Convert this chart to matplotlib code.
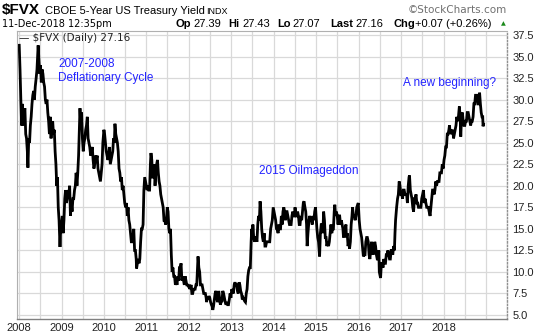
import matplotlib
matplotlib.use("Agg")
import matplotlib.pyplot as plt
import pandas as pd

# $FVX daily closes (yield x 10), sampled through the period
dates = [
    "2008-01-02", "2008-01-09", "2008-01-16", "2008-01-23", "2008-01-30", "2008-02-06", "2008-02-13", "2008-02-20",
    "2008-02-27", "2008-03-05", "2008-03-12", "2008-03-17", "2008-03-24", "2008-03-31", "2008-04-07", "2008-04-14",
    "2008-04-21", "2008-04-28", "2008-05-05", "2008-05-12", "2008-05-19", "2008-05-27", "2008-06-03", "2008-06-10",
    "2008-06-13", "2008-06-20", "2008-06-27", "2008-07-03", "2008-07-10", "2008-07-17", "2008-07-24", "2008-07-31",
    "2008-08-07", "2008-08-14", "2008-08-21", "2008-08-28", "2008-09-04", "2008-09-11", "2008-09-18", "2008-09-25",
    "2008-10-02", "2008-10-09", "2008-10-16", "2008-10-23", "2008-10-30", "2008-11-06", "2008-11-13", "2008-11-20",
    "2008-11-26", "2008-12-03", "2008-12-10", "2008-12-18", "2008-12-24", "2008-12-31",
    "2009-01-07", "2009-01-14", "2009-01-21", "2009-01-28", "2009-02-04", "2009-02-11", "2009-02-18", "2009-02-25",
    "2009-03-04", "2009-03-11", "2009-03-18", "2009-03-25", "2009-04-01", "2009-04-08", "2009-04-15", "2009-04-22",
    "2009-04-29", "2009-05-06", "2009-05-13", "2009-05-20", "2009-05-27", "2009-06-03", "2009-06-08", "2009-06-15",
    "2009-06-22", "2009-06-29", "2009-07-06", "2009-07-13", "2009-07-20", "2009-07-27", "2009-08-03", "2009-08-10",
    "2009-08-17", "2009-08-24", "2009-08-31", "2009-09-08", "2009-09-15", "2009-09-22", "2009-09-29", "2009-10-06",
    "2009-10-13", "2009-10-20", "2009-10-27", "2009-11-03", "2009-11-10", "2009-11-17", "2009-11-24", "2009-12-01",
    "2009-12-08", "2009-12-15", "2009-12-22", "2009-12-31",
    "2010-01-06", "2010-01-13", "2010-01-20", "2010-01-27", "2010-02-03", "2010-02-10", "2010-02-17", "2010-02-24",
    "2010-03-03", "2010-03-10", "2010-03-17", "2010-03-24", "2010-03-31", "2010-04-05", "2010-04-12", "2010-04-19",
    "2010-04-26", "2010-05-03", "2010-05-10", "2010-05-17", "2010-05-24", "2010-05-31", "2010-06-07", "2010-06-14",
    "2010-06-21", "2010-06-28", "2010-07-06", "2010-07-13", "2010-07-20", "2010-07-27", "2010-08-03", "2010-08-10",
    "2010-08-17", "2010-08-24", "2010-08-31", "2010-09-07", "2010-09-14", "2010-09-21", "2010-09-28", "2010-10-05",
    "2010-10-08", "2010-10-15", "2010-10-22", "2010-10-29", "2010-11-05", "2010-11-12", "2010-11-19", "2010-11-26",
    "2010-12-03", "2010-12-10", "2010-12-17", "2010-12-24", "2010-12-31",
    "2011-01-07", "2011-01-14", "2011-01-21", "2011-01-28", "2011-02-04", "2011-02-09", "2011-02-16", "2011-02-23",
    "2011-03-02", "2011-03-09", "2011-03-16", "2011-03-23", "2011-03-30", "2011-04-06", "2011-04-13", "2011-04-20",
    "2011-04-27", "2011-05-04", "2011-05-11", "2011-05-18", "2011-05-25", "2011-06-01", "2011-06-08", "2011-06-15",
    "2011-06-22", "2011-06-29", "2011-07-06", "2011-07-13", "2011-07-20", "2011-07-27", "2011-08-03", "2011-08-10",
    "2011-08-17", "2011-08-24", "2011-08-31", "2011-09-07", "2011-09-14", "2011-09-21", "2011-09-28", "2011-10-05",
    "2011-10-12", "2011-10-19", "2011-10-26", "2011-11-02", "2011-11-09", "2011-11-16", "2011-11-23", "2011-11-30",
    "2011-12-07", "2011-12-14", "2011-12-21", "2011-12-30",
    "2012-01-06", "2012-01-13", "2012-01-20", "2012-01-27", "2012-02-03", "2012-02-10", "2012-02-17", "2012-02-24",
    "2012-03-02", "2012-03-09", "2012-03-16", "2012-03-20", "2012-03-27", "2012-04-03", "2012-04-10", "2012-04-17",
    "2012-04-24", "2012-05-01", "2012-05-08", "2012-05-15", "2012-05-22", "2012-05-29", "2012-06-01", "2012-06-08",
    "2012-06-15", "2012-06-22", "2012-06-29", "2012-07-06", "2012-07-13", "2012-07-20", "2012-07-25", "2012-07-31",
    "2012-08-07", "2012-08-14", "2012-08-21", "2012-08-28", "2012-09-04", "2012-09-11", "2012-09-14", "2012-09-21",
    "2012-09-28", "2012-10-05", "2012-10-12", "2012-10-19", "2012-10-26", "2012-11-02", "2012-11-09", "2012-11-16",
    "2012-11-23", "2012-11-30", "2012-12-07", "2012-12-14", "2012-12-21", "2012-12-28",
    "2013-01-04", "2013-01-11", "2013-01-18", "2013-01-25", "2013-02-01", "2013-02-08", "2013-02-15", "2013-02-22",
    "2013-03-01", "2013-03-08", "2013-03-15", "2013-03-22", "2013-03-29", "2013-04-05", "2013-04-12", "2013-04-19",
    "2013-04-26", "2013-05-02", "2013-05-09", "2013-05-16", "2013-05-23", "2013-05-30", "2013-06-06", "2013-06-13",
    "2013-06-20", "2013-06-25", "2013-07-01", "2013-07-05", "2013-07-12", "2013-07-19", "2013-07-26", "2013-08-02",
    "2013-08-09", "2013-08-16", "2013-08-23", "2013-08-30", "2013-09-05", "2013-09-12", "2013-09-19", "2013-09-26",
    "2013-10-03", "2013-10-10", "2013-10-17", "2013-10-24", "2013-10-31", "2013-11-07", "2013-11-14", "2013-11-21",
    "2013-11-27", "2013-12-05", "2013-12-12", "2013-12-19", "2013-12-27",
    "2014-01-03", "2014-01-10", "2014-01-17", "2014-01-24", "2014-01-31", "2014-02-07", "2014-02-14", "2014-02-21",
    "2014-02-28", "2014-03-07", "2014-03-14", "2014-03-21", "2014-03-28", "2014-04-04", "2014-04-11", "2014-04-18",
    "2014-04-25", "2014-05-02", "2014-05-09", "2014-05-16", "2014-05-23", "2014-05-30", "2014-06-06", "2014-06-13",
    "2014-06-20", "2014-06-27", "2014-07-03", "2014-07-11", "2014-07-18", "2014-07-25", "2014-08-01", "2014-08-08",
    "2014-08-15", "2014-08-22", "2014-08-29", "2014-09-05", "2014-09-12", "2014-09-18", "2014-09-26", "2014-10-03",
    "2014-10-10", "2014-10-15", "2014-10-22", "2014-10-31", "2014-11-07", "2014-11-14", "2014-11-21", "2014-11-28",
    "2014-12-05", "2014-12-12", "2014-12-19", "2014-12-26", "2014-12-31",
    "2015-01-07", "2015-01-14", "2015-01-21", "2015-01-30", "2015-02-06", "2015-02-13", "2015-02-20", "2015-02-27",
    "2015-03-06", "2015-03-13", "2015-03-20", "2015-03-27", "2015-04-03", "2015-04-10", "2015-04-17", "2015-04-24",
    "2015-05-01", "2015-05-08", "2015-05-15", "2015-05-22", "2015-05-29", "2015-06-05", "2015-06-10", "2015-06-17",
    "2015-06-24", "2015-07-01", "2015-07-08", "2015-07-15", "2015-07-22", "2015-07-29", "2015-08-05", "2015-08-12",
    "2015-08-19", "2015-08-24", "2015-08-31", "2015-09-07", "2015-09-14", "2015-09-18", "2015-09-25", "2015-10-02",
    "2015-10-09", "2015-10-15", "2015-10-22", "2015-10-29", "2015-11-05", "2015-11-10", "2015-11-17", "2015-11-24",
    "2015-12-02", "2015-12-09", "2015-12-16", "2015-12-29",
    "2016-01-06", "2016-01-13", "2016-01-20", "2016-01-27", "2016-02-03", "2016-02-11", "2016-02-18", "2016-02-25",
    "2016-03-03", "2016-03-10", "2016-03-16", "2016-03-24", "2016-03-31", "2016-04-07", "2016-04-14", "2016-04-21",
    "2016-04-28", "2016-05-05", "2016-05-12", "2016-05-19", "2016-05-26", "2016-06-02", "2016-06-09", "2016-06-16",
    "2016-06-23", "2016-06-27", "2016-07-05", "2016-07-08", "2016-07-15", "2016-07-22", "2016-07-29", "2016-08-05",
    "2016-08-12", "2016-08-19", "2016-08-26", "2016-09-02", "2016-09-09", "2016-09-16", "2016-09-23", "2016-09-30",
    "2016-10-07", "2016-10-14", "2016-10-21", "2016-10-28", "2016-11-04", "2016-11-09", "2016-11-14", "2016-11-23",
    "2016-12-01", "2016-12-08", "2016-12-15", "2016-12-22", "2016-12-30",
    "2017-01-06", "2017-01-13", "2017-01-20", "2017-01-27", "2017-02-03", "2017-02-10", "2017-02-17", "2017-02-24",
    "2017-03-03", "2017-03-10", "2017-03-14", "2017-03-21", "2017-03-28", "2017-04-04", "2017-04-11", "2017-04-18",
    "2017-04-25", "2017-05-02", "2017-05-09", "2017-05-16", "2017-05-23", "2017-05-30", "2017-06-06", "2017-06-13",
    "2017-06-20", "2017-06-27", "2017-07-05", "2017-07-12", "2017-07-19", "2017-07-26", "2017-08-02", "2017-08-09",
    "2017-08-16", "2017-08-23", "2017-08-30", "2017-09-07", "2017-09-14", "2017-09-21", "2017-09-28", "2017-10-05",
    "2017-10-12", "2017-10-19", "2017-10-26", "2017-11-02", "2017-11-09", "2017-11-16", "2017-11-23", "2017-11-30",
    "2017-12-07", "2017-12-14", "2017-12-21", "2017-12-29",
    "2018-01-05", "2018-01-12", "2018-01-19", "2018-01-26", "2018-02-02", "2018-02-09", "2018-02-16", "2018-02-21",
    "2018-02-28", "2018-03-07", "2018-03-14", "2018-03-21", "2018-03-28", "2018-04-04", "2018-04-11", "2018-04-18",
    "2018-04-25", "2018-05-02", "2018-05-09", "2018-05-17", "2018-05-24", "2018-05-29", "2018-06-05", "2018-06-12",
    "2018-06-19", "2018-06-26", "2018-07-03", "2018-07-10", "2018-07-17", "2018-07-24", "2018-08-01", "2018-08-08",
    "2018-08-15", "2018-08-22", "2018-08-29", "2018-09-05", "2018-09-12", "2018-09-19", "2018-09-26", "2018-10-03",
    "2018-10-09", "2018-10-16", "2018-10-23", "2018-10-31", "2018-11-07", "2018-11-14", "2018-11-21", "2018-11-28",
    "2018-12-04", "2018-12-07", "2018-12-11",
]

fvx = [
    36.3, 33.5, 30.0, 27.0, 29.5, 27.0, 28.5, 29.0,
    26.0, 25.5, 24.0, 22.1, 25.5, 25.0, 27.0, 28.0,
    29.5, 30.5, 31.0, 30.0, 31.5, 32.5, 33.5, 35.5,
    36.3, 34.5, 33.0, 34.0, 32.0, 33.5, 33.0, 32.0,
    31.5, 30.0, 29.5, 30.0, 28.5, 27.5, 26.0, 28.0,
    25.5, 27.0, 27.5, 26.0, 26.5, 24.0, 22.5, 20.0,
    21.0, 17.5, 16.0, 12.9, 15.0, 15.5,
    16.5, 14.5, 16.0, 18.5, 19.5, 18.0, 18.5, 19.5,
    19.0, 20.0, 16.5, 18.0, 17.0, 18.5, 18.5, 19.5,
    20.0, 21.5, 20.0, 21.5, 23.5, 26.5, 29.0, 27.0,
    28.5, 25.5, 24.0, 25.0, 25.5, 26.5, 27.0, 28.0,
    25.5, 25.0, 24.5, 23.5, 24.0, 24.5, 23.0, 22.0,
    22.5, 23.5, 23.0, 23.5, 22.0, 21.5, 21.0, 20.5,
    21.5, 22.5, 25.0, 26.5,
    26.0, 25.0, 24.0, 23.5, 23.0, 23.5, 24.5, 22.5,
    23.0, 23.5, 24.0, 25.5, 25.0, 27.2, 26.0, 25.5,
    25.0, 24.0, 22.0, 21.5, 20.5, 21.0, 19.5, 20.0,
    19.0, 18.0, 17.5, 18.0, 16.5, 17.5, 16.0, 15.5,
    14.5, 13.5, 13.5, 14.0, 15.0, 12.5, 12.5, 11.5,
    10.4, 11.0, 11.5, 11.0, 11.5, 13.5, 15.0, 15.0,
    15.5, 19.5, 21.0, 20.5, 20.0,
    19.5, 20.0, 19.5, 19.5, 22.5, 23.8, 23.0, 21.0,
    21.0, 22.5, 20.0, 21.5, 22.5, 23.0, 21.5, 20.5,
    20.0, 19.0, 18.5, 18.0, 17.5, 16.0, 16.0, 15.5,
    16.0, 17.5, 17.0, 15.0, 14.5, 15.0, 12.0, 10.0,
    10.5, 9.5, 9.5, 8.5, 9.0, 8.5, 9.5, 9.0,
    10.5, 10.5, 11.0, 9.0, 9.5, 9.0, 8.5, 9.5,
    9.0, 8.5, 8.5, 8.3,
    8.5, 8.0, 8.5, 7.5, 7.5, 8.0, 8.0, 8.0,
    8.5, 8.5, 10.5, 11.8, 10.5, 10.0, 8.5, 8.5,
    8.5, 8.0, 7.5, 7.5, 7.5, 7.0, 6.5, 7.0,
    6.8, 7.2, 7.0, 6.5, 6.2, 6.0, 5.6, 6.0,
    6.8, 7.5, 7.8, 7.0, 6.5, 7.0, 7.8, 7.0,
    6.2, 6.5, 6.6, 7.8, 7.5, 7.0, 6.5, 6.2,
    6.5, 6.2, 6.2, 6.8, 7.5, 7.0,
    8.0, 7.8, 7.5, 8.5, 8.8, 8.5, 8.5, 7.8,
    7.5, 8.8, 8.5, 7.8, 7.5, 6.8, 7.0, 6.8,
    6.6, 6.5, 7.5, 8.0, 9.5, 10.2, 10.5, 10.5,
    13.5, 15.0, 14.0, 15.5, 14.0, 13.5, 14.0, 14.0,
    13.5, 15.5, 16.5, 16.0, 18.2, 17.0, 15.0, 14.0,
    13.5, 14.5, 13.0, 13.0, 13.5, 13.5, 13.5, 13.5,
    13.5, 15.0, 15.5, 16.0, 17.5,
    17.0, 16.5, 16.0, 15.0, 14.9, 14.5, 15.5, 15.0,
    15.0, 16.5, 15.5, 17.0, 17.5, 17.0, 16.0, 17.0,
    17.0, 16.5, 16.0, 15.5, 15.5, 15.5, 16.5, 17.0,
    16.5, 16.5, 17.5, 16.5, 16.5, 17.0, 16.5, 15.5,
    15.5, 16.5, 16.0, 17.0, 18.0, 18.2, 17.5, 17.0,
    15.5, 13.0, 14.5, 16.0, 16.5, 16.0, 16.0, 15.5,
    16.5, 16.0, 17.0, 17.5, 16.5,
    15.0, 14.0, 13.5, 11.8, 14.5, 15.5, 15.5, 14.5,
    17.0, 16.0, 14.0, 14.0, 13.0, 13.5, 13.0, 13.5,
    14.5, 15.5, 14.5, 15.0, 15.0, 17.0, 17.8, 16.5,
    17.0, 16.5, 15.5, 16.5, 16.5, 15.5, 16.0, 15.5,
    15.0, 14.0, 15.0, 15.0, 15.5, 14.0, 14.5, 13.0,
    13.5, 12.7, 13.5, 15.5, 16.5, 17.5, 16.5, 16.5,
    16.0, 16.5, 17.5, 18.0,
    16.0, 15.0, 14.5, 14.0, 13.0, 11.8, 12.0, 12.0,
    13.5, 14.0, 14.0, 13.5, 12.0, 11.5, 12.5, 13.5,
    12.5, 12.0, 12.5, 13.5, 13.0, 12.0, 11.5, 11.5,
    12.5, 10.0, 9.5, 9.3, 11.0, 11.0, 10.5, 11.5,
    11.0, 11.0, 12.0, 12.0, 12.5, 12.0, 11.5, 11.5,
    12.5, 12.5, 12.0, 13.0, 12.5, 14.5, 16.0, 17.5,
    18.5, 19.0, 20.5, 20.0, 19.0,
    19.0, 18.5, 19.5, 19.5, 19.0, 19.0, 19.0, 18.0,
    20.0, 21.0, 21.2, 19.5, 19.0, 18.5, 17.5, 17.0,
    18.5, 18.5, 19.0, 18.0, 18.0, 17.5, 17.5, 17.5,
    17.5, 18.5, 19.0, 19.5, 18.0, 18.5, 18.0, 17.5,
    17.5, 17.5, 17.0, 16.5, 17.5, 18.5, 19.5, 19.5,
    19.0, 19.5, 20.5, 20.0, 20.5, 20.5, 20.5, 21.5,
    21.5, 21.5, 22.5, 22.0,
    23.0, 23.5, 24.5, 24.5, 26.0, 26.0, 26.5, 27.0,
    26.0, 26.5, 26.0, 26.5, 25.5, 26.0, 26.5, 27.0,
    28.0, 27.5, 28.0, 29.2, 28.0, 25.7, 28.0, 28.5,
    27.5, 27.0, 27.0, 27.5, 27.5, 28.5, 28.5, 28.0,
    27.5, 27.0, 27.5, 27.5, 28.0, 29.5, 29.5, 30.5,
    30.5, 30.5, 29.5, 29.5, 30.8, 29.5, 28.5, 28.0,
    28.0, 26.9, 27.16,
]

year_ticks = list(range(2008, 2019))
y_ticks = [5.0, 7.5, 10.0, 12.5, 15.0, 17.5, 20.0, 22.5, 25.0, 27.5, 30.0, 32.5, 35.0, 37.5]

W, H = 550, 336
fig = plt.figure(figsize=(W / 100, H / 100), dpi=100)
fig.patch.set_facecolor("white")


def px(x, y):
    return x / W, 1 - y / H


ax = fig.add_axes([17 / W, 1 - 319 / H, (507 - 17) / W, (319 - 31) / H])
x = pd.to_datetime(dates)
ax.plot(x, fvx, color="black", lw=2.0, solid_joinstyle="miter")

ax.set_ylim(4.54, 37.96)
ax.set_xlim(pd.Timestamp("2007-12-14"), pd.Timestamp("2019-02-02"))

# grid every half-year and every 2.5 points
half_years = [pd.Timestamp(f"{y}-{m:02d}-01") for y in range(2008, 2020) for m in (1, 7)]
ax.set_xticks([pd.Timestamp(f"{y}-01-01") for y in year_ticks])
ax.set_xticklabels([str(y) for y in year_ticks])
ax.set_xticks(half_years, minor=True)
ax.set_yticks(y_ticks)
ax.set_yticklabels([f"{v:.1f}" for v in y_ticks])
ax.grid(True, which="both", axis="x", color="#d9d9d9", lw=0.9)
ax.grid(True, which="major", axis="y", color="#d9d9d9", lw=0.9)
ax.set_axisbelow(True)

ax.yaxis.tick_right()
ax.tick_params(axis="y", which="both", length=0, pad=4, labelsize=8, labelcolor="#222222")
ax.tick_params(axis="x", which="both", length=0, pad=3, labelsize=8, labelcolor="#222222")
for lab in ax.get_xticklabels() + ax.get_yticklabels():
    lab.set_fontfamily("Liberation Sans")

for side in ("left", "top"):
    ax.spines[side].set_color("#b0b0b0")
    ax.spines[side].set_linewidth(0.8)
ax.spines["bottom"].set_color("#808080")
ax.spines["bottom"].set_linewidth(1.0)
ax.spines["right"].set_color("#909090")
ax.spines["right"].set_linewidth(1.0)
ax.spines["right"].set_linestyle((0, (1, 1.5)))

# chart header
hdr = dict(va="center", ha="left", color="black", fontfamily="Liberation Sans")
fig.text(*px(2, 10), "$FVX", fontsize=11, fontweight="bold", **hdr)
fig.text(*px(45, 11), "CBOE 5-Year US Treasury Yield", fontsize=8, **hdr)
fig.text(*px(206, 11.5), "INDX", fontsize=6.5, **hdr)
fig.text(*px(2, 24), "11-Dec-2018 12:35pm", fontsize=7, color="black", va="center", ha="left",
         fontfamily="DejaVu Sans")
quote = [(176, "Op", True), (193, "27.39", False), (228, "Hi", True), (242, "27.43", False),
         (277, "Lo", True), (292, "27.07", False), (330, "Last", True), (355, "27.16", False),
         (393, "Chg", True), (415, "+0.07 (+0.26%)", False)]
for qx, txt, bold in quote:
    fig.text(*px(qx, 24), txt, fontsize=8, fontweight="bold" if bold else "normal", **hdr)
fig.text(*px(503, 24), "\u25B2", fontsize=4.5, color="#1a8a1a", va="center", ha="center")
fig.text(*px(507, 10), "\u00A9StockCharts.com", fontsize=7.5, color="#707070", va="center", ha="right",
         fontfamily="DejaVu Sans")

# legend entry
fig.text(*px(19, 38), "\u2014 $FVX (Daily) 27.16", fontsize=7.5, color="#222222", va="center", ha="left",
         fontfamily="DejaVu Sans")

# annotations
blue = "#2424ff"
ann = dict(va="center", ha="left", color=blue, fontsize=8.5, fontfamily="Liberation Sans")
fig.text(*px(58, 64), "2007-2008", **ann)
fig.text(*px(58, 78.5), "Deflationary Cycle", **ann)
fig.text(*px(259, 171), "2015 Oilmageddon", **ann)
fig.text(*px(403, 83), "A new beginning?", **ann)

fig.savefig("out.png", dpi=100, facecolor="white")
